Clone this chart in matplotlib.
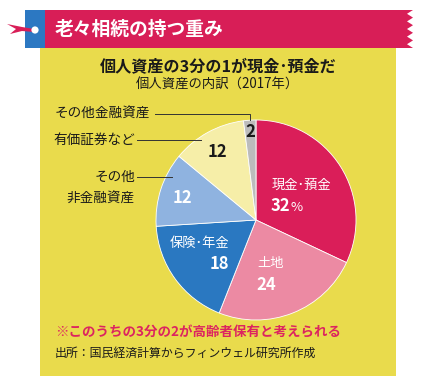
import matplotlib
matplotlib.use("Agg")
import matplotlib.pyplot as plt
from matplotlib.patches import Rectangle, Polygon, Circle

plt.rcParams['font.family'] = ['Noto Sans CJK JP', 'DejaVu Sans']

categories = ["現金・預金", "土地", "保険・年金", "その他\n非金融資産", "有価証券など", "その他金融資産"]
values = [32, 24, 18, 12, 12, 2]
colors = ["#DA1E59", "#EC8AA3", "#2A78C1", "#8FB3E0", "#F6EEA8", "#BCBCBC"]

banner_title = "老々相続の持つ重み"
title = "個人資産の3分の1が現金･預金だ"
subtitle = "個人資産の内訳（2017年）"
note = "※このうちの3分の2が高齢者保有と考えられる"
source = "出所：国民経済計算からフィンウェル研究所作成"

W, H = 425, 389
fig = plt.figure(figsize=(W / 100, H / 100), dpi=100)
fig.patch.set_facecolor("white")

bg = fig.add_axes([0, 0, 1, 1])
bg.set_xlim(0, W)
bg.set_ylim(H, 0)
bg.axis("off")

# yellow panel
bg.add_patch(Rectangle((40, 48), 356, 328, facecolor="#E9DB4C", edgecolor="none"))

# banner
zig = [(45, 10), (413, 10)]
n = 5
top, bot = 10, 48
for i in range(n):
    y0 = top + (bot - top) * i / n
    y1 = top + (bot - top) * (i + 0.5) / n
    zig.append((413, y0))
    zig.append((407, y1))
zig.append((413, bot))
zig.append((45, bot))
bg.add_patch(Polygon(zig, closed=True, facecolor="#D81E57", edgecolor="none"))
bg.add_patch(Rectangle((25, 10), 20, 38, facecolor="#2C78C2", edgecolor="none"))
bg.add_patch(Polygon([(7, 24), (22, 27), (34, 29), (34, 32), (22, 31), (10, 34), (16, 29)],
                     closed=True, facecolor="#D81E57", edgecolor="none"))
bg.add_patch(Circle((35, 30), 3.6, facecolor="white", edgecolor="none"))

# pie
cx, cy, r = 256, 220, 100
pax = fig.add_axes([(cx - r) / W, (H - cy - r) / H, 2 * r / W, 2 * r / H])
pax.pie(values, colors=colors, startangle=90, counterclock=False,
        wedgeprops=dict(edgecolor="white", linewidth=0.6), radius=1.0)
pax.set_xlim(-1, 1)
pax.set_ylim(-1, 1)
pax.set_aspect("auto")
pax.axis("off")

# overlay for text
fg = fig.add_axes([0, 0, 1, 1])
fg.set_xlim(0, W)
fg.set_ylim(H, 0)
fg.axis("off")
fg.patch.set_alpha(0)

fg.text(55, 29, banner_title, color="white", fontsize=13.5, fontweight="bold",
        va="center", ha="left")

# titles
fg.text(218, 66, title, fontsize=11.6, fontweight="bold", ha="center", va="center", color="#1a1a1a")
fg.text(217, 85, subtitle, fontsize=9.6, ha="center", va="center", color="#1a1a1a")

# inside labels
fg.text(272, 185, "現金･預金", color="white", fontsize=9.5, ha="left", va="center")
fg.text(271, 206, f"{values[0]}", color="white", fontsize=12, fontweight="bold", ha="left", va="center")
fg.text(291, 207, "%", color="white", fontsize=9.5, ha="left", va="center")
fg.text(229, 243, "保険･年金", color="white", fontsize=9.5, ha="right", va="center")
fg.text(229, 264, f"{values[2]}", color="white", fontsize=12, fontweight="bold", ha="right", va="center")
fg.text(257, 263, categories[1], color="white", fontsize=9.5, ha="left", va="center")
fg.text(256, 285, f"{values[1]}", color="white", fontsize=12, fontweight="bold", ha="left", va="center")
fg.text(182, 198, f"{values[3]}", color="white", fontsize=12, fontweight="bold", ha="center", va="center")
fg.text(217, 152, f"{values[4]}", color="#1a1a1a", fontsize=12, fontweight="bold", ha="center", va="center")
fg.text(250, 132, f"{values[5]}", color="#1a1a1a", fontsize=12, fontweight="bold", ha="center", va="center")

# outside labels with leader lines
fg.text(55, 114, categories[5], fontsize=9.8, ha="left", va="center", color="#1a1a1a")
fg.plot([155, 250, 250], [114, 114, 120], color="#333333", lw=0.7)
fg.text(135, 140, categories[4], fontsize=9.8, ha="right", va="center", color="#1a1a1a")
fg.plot([137, 201], [140, 140], color="#333333", lw=0.7)
fg.text(135, 177, "その他", fontsize=9.8, ha="right", va="center", color="#1a1a1a")
fg.text(135, 199, "非金融資産", fontsize=9.8, ha="right", va="center", color="#1a1a1a")
fg.plot([137, 172], [177, 177], color="#333333", lw=0.7)

# note and source
fg.text(55, 333, note, fontsize=9.7, fontweight="bold", color="#DC2460", ha="left", va="center")
fg.text(55, 353, source, fontsize=8.6, color="#1a1a1a", ha="left", va="center")

fig.savefig("out.png", dpi=100, facecolor=fig.get_facecolor())
